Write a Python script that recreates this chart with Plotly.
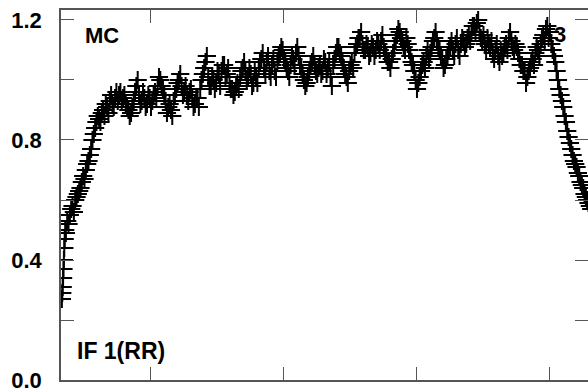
import plotly.graph_objects as go

# channel positions (dense at the steep start, then every channel)
chan_start = [33.0, 33.3, 33.6, 33.9, 34.2, 34.5, 34.8, 35.1, 35.5, 36.0]
amp_start = [0.27, 0.29, 0.31, 0.34, 0.37, 0.40, 0.44, 0.47, 0.50, 0.49]

# odd channels 37..431
amp_odd = [
    0.53, 0.55, 0.58, 0.60, 0.62, 0.64, 0.68, 0.70, 0.73, 0.77,   # 37-55
    0.82, 0.86, 0.87, 0.89, 0.88, 0.91, 0.93, 0.92, 0.94, 0.93,   # 57-75
    0.96, 0.94, 0.92, 0.90, 0.89, 0.93, 0.98, 0.95, 0.93, 0.94,   # 77-95
    0.92, 0.94, 0.93, 0.96, 0.98, 1.00, 0.97, 0.93, 0.91, 0.90,   # 97-115
    0.93, 0.97, 1.00, 0.98, 0.96, 0.95, 0.96, 0.94, 0.92, 0.94,   # 117-135
    0.97, 1.02, 1.06, 1.01, 0.98, 1.00, 0.99, 1.02, 1.03, 1.05,   # 137-155
    1.02, 0.99, 0.97, 0.96, 0.99, 1.01, 1.04, 1.03, 1.01, 1.02,   # 157-175
    0.99, 1.01, 1.04, 1.07, 1.04, 1.06, 1.03, 1.05, 1.03, 1.06,   # 177-195
    1.09, 1.10, 1.06, 1.03, 1.05, 1.07, 1.09, 1.08, 1.04, 1.00,   # 197-215
    0.99, 1.03, 1.06, 1.05, 1.02, 1.05, 1.03, 1.06, 1.04, 1.01,   # 217-235
    1.05, 1.09, 1.11, 1.08, 1.04, 1.01, 1.03, 1.06, 1.09, 1.12,   # 237-255
    1.14, 1.12, 1.10, 1.11, 1.09, 1.11, 1.10, 1.12, 1.13, 1.11,   # 257-275
    1.08, 1.06, 1.07, 1.11, 1.15, 1.16, 1.13, 1.10, 1.12, 1.08,   # 277-295
    1.05, 1.00, 0.99, 1.03, 1.06, 1.08, 1.07, 1.11, 1.14, 1.13,   # 297-315
    1.10, 1.07, 1.05, 1.08, 1.11, 1.10, 1.12, 1.10, 1.12, 1.13,   # 317-335
    1.12, 1.15, 1.16, 1.18, 1.19, 1.16, 1.13, 1.12, 1.14, 1.11,   # 337-355
    1.09, 1.10, 1.08, 1.10, 1.09, 1.12, 1.14, 1.13, 1.10, 1.11,   # 357-375
    1.07, 1.05, 1.03, 1.01, 1.04, 1.07, 1.09, 1.10, 1.12, 1.15,   # 377-395
    1.17, 1.14, 1.12, 1.08, 1.03, 0.97, 0.93, 0.88, 0.83, 0.79,   # 397-415
    0.75, 0.72, 0.69, 0.66, 0.64, 0.61, 0.59, 0.57,               # 417-431
]
# even channels 38..430
amp_even = [
    0.52, 0.57, 0.56, 0.61, 0.63, 0.66, 0.67, 0.72, 0.75, 0.80,   # 38-56
    0.84, 0.88, 0.86, 0.90, 0.92, 0.89, 0.95, 0.91, 0.96, 0.95,   # 58-76
    0.93, 0.95, 0.91, 0.88, 0.91, 0.96, 1.00, 0.92, 0.96, 0.91,   # 78-96
    0.95, 0.91, 0.95, 0.94, 1.01, 0.98, 0.95, 0.89, 0.92, 0.88,   # 98-116
    0.95, 0.99, 1.02, 0.95, 0.98, 0.93, 0.97, 0.91, 0.94, 0.91,   # 118-136
    1.00, 1.04, 1.08, 0.98, 1.01, 0.97, 1.03, 0.98, 1.05, 1.01,   # 138-156
    1.04, 0.97, 0.95, 0.98, 0.97, 1.03, 1.06, 1.00, 1.04, 0.98,   # 158-176
    1.03, 0.99, 1.06, 1.09, 1.02, 1.08, 1.01, 1.07, 1.01, 1.08,   # 178-196
    1.11, 1.07, 1.04, 1.01, 1.08, 1.05, 1.11, 1.05, 1.02, 0.98,   # 198-216
    1.01, 1.05, 1.08, 1.03, 1.04, 1.02, 1.07, 1.02, 1.06, 0.98,   # 218-236
    1.07, 1.11, 1.09, 1.06, 1.02, 0.99, 1.05, 1.04, 1.11, 1.14,   # 238-256
    1.16, 1.10, 1.12, 1.08, 1.12, 1.08, 1.13, 1.10, 1.15, 1.09,   # 258-276
    1.06, 1.04, 1.09, 1.13, 1.17, 1.14, 1.11, 1.14, 1.10, 1.06,   # 278-296
    1.03, 0.97, 1.01, 1.05, 1.04, 1.10, 1.09, 1.13, 1.16, 1.11,   # 298-316
    1.08, 1.04, 1.07, 1.10, 1.13, 1.08, 1.14, 1.08, 1.14, 1.11,   # 318-336
    1.14, 1.13, 1.18, 1.16, 1.20, 1.14, 1.15, 1.10, 1.12, 1.13,   # 338-356
    1.07, 1.12, 1.06, 1.08, 1.11, 1.10, 1.16, 1.11, 1.12, 1.09,   # 358-376
    1.05, 1.03, 0.99, 1.03, 1.06, 1.05, 1.11, 1.08, 1.14, 1.13,   # 378-396
    1.18, 1.16, 1.10, 1.06, 1.00, 0.95, 0.91, 0.86, 0.81, 0.77,   # 398-416
    0.73, 0.71, 0.68, 0.65, 0.62, 0.60, 0.58,                     # 418-430
]
chan_odd = list(range(37, 37 + 2 * len(amp_odd), 2))
chan_even = list(range(38, 38 + 2 * len(amp_even), 2))

# merge in channel order
pairs = sorted(zip(chan_start + chan_odd + chan_even, amp_start + amp_odd + amp_even))
chan = [p[0] for p in pairs]
amp = [p[1] for p in pairs]

y_ticks = [0.0, 0.2, 0.4, 0.6, 0.8, 1.0, 1.2]
y_labels = ["0.0", "", "0.4", "", "0.8", "", "1.2"]
x_ticks = [100, 200, 300, 400]

fig = go.Figure()
fig.add_trace(go.Scatter(
    x=chan, y=amp, mode="markers",
    marker=dict(symbol="cross-thin", size=13,
                line=dict(color="black", width=2), color="black"),
    showlegend=False, hoverinfo="skip",
))
fig.add_trace(go.Scatter(x=[chan[0]], y=[amp[0]], yaxis="y2", mode="markers",
                         marker=dict(opacity=0), showlegend=False, hoverinfo="skip"))

axis_col = "#555555"
font_fam = "Liberation Sans, Arial, sans-serif"

fig.update_layout(
    width=588, height=391,
    margin=dict(l=61, r=0, t=10, b=11, autoexpand=False),
    paper_bgcolor="white", plot_bgcolor="white",
    font=dict(family=font_fam, size=20, color="black"),
    xaxis=dict(range=[32.33, 428.6], showgrid=False, zeroline=False,
               showline=True, linecolor=axis_col, linewidth=1.5, mirror="ticks",
               ticks="inside", ticklen=13, tickwidth=1.3, tickcolor=axis_col,
               tickvals=x_ticks, showticklabels=False),
    yaxis=dict(range=[0, 1.2333], showgrid=False, zeroline=False,
               showline=True, linecolor=axis_col, linewidth=1.5,
               ticks="inside", ticklen=13, tickwidth=1.3, tickcolor=axis_col,
               tickvals=y_ticks, ticktext=y_labels, ticklabelstandoff=13,
               ticklabeloverflow="allow",
               tickfont=dict(family=font_fam, size=22, color="black", weight="bold")),
    yaxis2=dict(range=[0, 1.2333], overlaying="y", side="right", anchor="x",
                showgrid=False, zeroline=False, showline=False,
                ticks="inside", ticklen=13, tickwidth=1.3, tickcolor=axis_col,
                tickvals=y_ticks, showticklabels=False),
)

fig.add_annotation(text="MC", xref="paper", yref="paper", x=0.0417, y=0.932,
                   xanchor="left", yanchor="middle", showarrow=False,
                   font=dict(family=font_fam, size=22, color="black", weight="bold"))
fig.add_annotation(text="IF 1(RR)", xref="paper", yref="paper", x=0.0266, y=0.078,
                   xanchor="left", yanchor="middle", showarrow=False,
                   font=dict(family=font_fam, size=23, color="black", weight="bold"))
fig.add_annotation(text="3", xref="paper", yref="paper", x=0.9317, y=0.935,
                   xanchor="left", yanchor="middle", showarrow=False,
                   font=dict(family=font_fam, size=22, color="black", weight="bold"))

fig.write_html(
    "out.html",
    config={"displayModeBar": False},
    post_script="document.body.style.margin='0';document.body.style.overflow='hidden';"
                "document.documentElement.style.overflow='hidden';",
)
